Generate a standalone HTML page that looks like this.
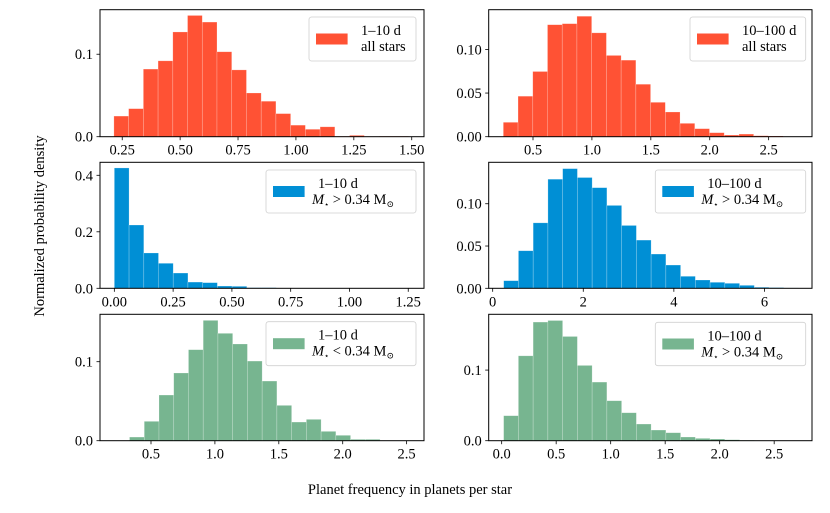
<!DOCTYPE html>
<html><head><meta charset="utf-8"><style>
html,body{margin:0;padding:0;background:#fff}
svg{display:block;font-family:"Liberation Serif","DejaVu Serif",serif}
</style></head><body>
<svg id="fig" width="830" height="513" viewBox="0 0 830 513" xmlns="http://www.w3.org/2000/svg">
<text x="0" y="0" transform="translate(44,226) rotate(-90)" text-anchor="middle" font-size="14.5">Normalized probability density</text>
<text x="410" y="494" text-anchor="middle" font-size="14.5">Planet frequency in planets per star</text>
</svg>
<script>
// Panel 1: 1-10 d all stars
const p1Start = 0.214, p1Width = 0.0636;
const p1Values = [0.025,0.034,0.082,0.092,0.127,0.147,0.139,0.103,0.081,0.053,0.043,0.028,0.014,0.009,0.012,0.0005,0.0016,0.0003,0.0005,0.0005];
const p1XTicks = [0.25,0.5,0.75,1.0,1.25,1.5];
const p1XTickLabels = ["0.25","0.50","0.75","1.00","1.25","1.50"];
const p1YTicks = [0,0.1];
const p1YTickLabels = ["0.0","0.1"];
// Panel 2: 10-100 d all stars
const p2Start = 0.248, p2Width = 0.125;
const p2Values = [0.0165,0.0464,0.0747,0.1283,0.1295,0.138,0.119,0.0931,0.0877,0.0601,0.0394,0.0283,0.0153,0.0092,0.0046,0.0019,0.003,0.0011,0.0008];
const p2XTicks = [0.5,1.0,1.5,2.0,2.5];
const p2XTickLabels = ["0.5","1.0","1.5","2.0","2.5"];
const p2YTicks = [0,0.05,0.10];
const p2YTickLabels = ["0.00","0.05","0.10"];
// Panel 3: 1-10 d M > 0.34
const p3Start = 0.0, p3Width = 0.0626;
const p3Values = [0.426,0.224,0.125,0.0885,0.054,0.022,0.020,0.008,0.007,0.002,0.002];
const p3XTicks = [0,0.25,0.5,0.75,1.0,1.25];
const p3XTickLabels = ["0.00","0.25","0.50","0.75","1.00","1.25"];
const p3YTicks = [0,0.2,0.4];
const p3YTickLabels = ["0.0","0.2","0.4"];
// Panel 4: 10-100 d M > 0.34
const p4Start = 0.243, p4Width = 0.3255;
const p4Values = [0.009,0.0444,0.0774,0.129,0.1415,0.131,0.119,0.098,0.0743,0.057,0.0405,0.0275,0.0142,0.0098,0.0071,0.0059,0.0035,0.0012,0.0008,0.0004];
const p4XTicks = [0,2,4,6];
const p4XTickLabels = ["0","2","4","6"];
const p4YTicks = [0,0.05,0.10];
const p4YTickLabels = ["0.00","0.05","0.10"];
// Panel 5: 1-10 d M < 0.34
const p5Start = 0.332, p5Width = 0.1153;
const p5Values = [0.0046,0.0245,0.0578,0.0857,0.1152,0.1523,0.1359,0.1224,0.1008,0.0755,0.0447,0.0236,0.027,0.0118,0.0068,0.0017,0.0017];
const p5XTicks = [0.5,1.0,1.5,2.0,2.5];
const p5XTickLabels = ["0.5","1.0","1.5","2.0","2.5"];
const p5YTicks = [0,0.1];
const p5YTickLabels = ["0.0","0.1"];
// Panel 6: 10-100 d
const p6Start = 0.018, p6Width = 0.1353;
const p6Values = [0.0354,0.1202,0.168,0.1702,0.1476,0.1066,0.083,0.0566,0.0396,0.0236,0.0151,0.0113,0.0052,0.0033,0.0024,0.0014,0.0005];
const p6XTicks = [0,0.5,1.0,1.5,2.0,2.5];
const p6XTickLabels = ["0.0","0.5","1.0","1.5","2.0","2.5"];
const p6YTicks = [0,0.1];
const p6YTickLabels = ["0.0","0.1"];

const NS = "http://www.w3.org/2000/svg";
const svg = document.getElementById('fig');
const RED = "#ff5234", BLUE = "#008fd5", GREEN = "#77b590";
function mk(tag, attrs, parent){const e=document.createElementNS(NS,tag);for(const k in attrs)e.setAttribute(k,attrs[k]);(parent||svg).appendChild(e);return e;}

const panels = [
 {id:"p1",box:[100,9.7,424,136.7],xd:[0.154,1.553],yd:[0,0.154],start:p1Start,w:p1Width,vals:p1Values,xt:p1XTicks,xl:p1XTickLabels,yt:p1YTicks,yl:p1YTickLabels,c:RED,leg:[309,17,416,61],l1:"1–10 d",l2:"all stars"},
 {id:"p2",box:[488.7,9.7,812,136.7],xd:[0.124,2.868],yd:[0,0.1455],start:p2Start,w:p2Width,vals:p2Values,xt:p2XTicks,xl:p2XTickLabels,yt:p2YTicks,yl:p2YTickLabels,c:RED,leg:[690,17,805.7,61],l1:"10–100 d",l2:"all stars"},
 {id:"p3",box:[100,162.3,424,288.3],xd:[-0.061,1.317],yd:[0,0.446],start:p3Start,w:p3Width,vals:p3Values,xt:p3XTicks,xl:p3XTickLabels,yt:p3YTicks,yl:p3YTickLabels,c:BLUE,leg:[266,170,416,213],l1:"1–10 d",l2:">"},
 {id:"p4",box:[488.7,162.3,812,288.3],xd:[-0.088,7.05],yd:[0,0.149],start:p4Start,w:p4Width,vals:p4Values,xt:p4XTicks,xl:p4XTickLabels,yt:p4YTicks,yl:p4YTickLabels,c:BLUE,leg:[655.3,170,805.7,213],l1:"10–100 d",l2:">"},
 {id:"p5",box:[100,314.3,424,440.7],xd:[0.101,2.636],yd:[0,0.160],start:p5Start,w:p5Width,vals:p5Values,xt:p5XTicks,xl:p5XTickLabels,yt:p5YTicks,yl:p5YTickLabels,c:GREEN,leg:[266,321.7,416,365.7],l1:"1–10 d",l2:"<"},
 {id:"p6",box:[488.7,314.3,812,440.7],xd:[-0.119,2.847],yd:[0,0.179],start:p6Start,w:p6Width,vals:p6Values,xt:p6XTicks,xl:p6XTickLabels,yt:p6YTicks,yl:p6YTickLabels,c:GREEN,leg:[655.3,322.3,805.7,365.7],l1:"10–100 d",l2:">"}
];

panels.forEach(p=>{
  const [x0,y0,x1,y1]=p.box;
  const sx=v=>x0+(v-p.xd[0])/(p.xd[1]-p.xd[0])*(x1-x0);
  const sy=v=>y1-(v-p.yd[0])/(p.yd[1]-p.yd[0])*(y1-y0);
  const g=mk('g',{});
  
  
  p.vals.forEach((v,i)=>{
    const a=sx(p.start+i*p.w), b=sx(p.start+(i+1)*p.w);
    const r=mk('rect',{x:a,y:sy(v),width:b-a,height:sy(0)-sy(v),fill:p.c,stroke:"#ffffff","stroke-opacity":"0.35","stroke-width":"0.6"},g);
    
    
  });
  const fr=mk('rect',{x:x0,y:y0,width:x1-x0,height:y1-y0,fill:"none",stroke:"#000","stroke-width":"1"},g);
  
  
  p.xt.forEach((t,i)=>{
    const x=sx(t);
    mk('line',{x1:x,y1:y1,x2:x,y2:y1+3.5,stroke:"#000","stroke-width":"0.8"},g);
    const tx=mk('text',{x:x,y:y1+18,"text-anchor":"middle","font-size":"14.5"},g);
    tx.textContent=p.xl[i];
    
    
  });
  p.yt.forEach((t,i)=>{
    const y=sy(t);
    mk('line',{x1:x0,y1:y,x2:x0-3.5,y2:y,stroke:"#000","stroke-width":"0.8"},g);
    const tx=mk('text',{x:x0-7,y:y+5,"text-anchor":"end","font-size":"14.5"},g);
    tx.textContent=p.yl[i];
    
    
  });
  const [lx0,ly0,lx1,ly1]=p.leg;
  const lg=mk('g',{},g);
  
  
  mk('rect',{x:lx0,y:ly0,width:lx1-lx0,height:ly1-ly0,rx:2.5,fill:"#fff","fill-opacity":"0.8",stroke:"#d0d0d0","stroke-width":"0.8"},lg);
  const patchY=(ly0+ly1)/2-5.5;
  mk('rect',{x:lx0+7,y:patchY,width:31.6,height:11,fill:p.c},lg);
  const t1=mk('text',{x:lx0+52,y:ly0+18,"font-size":"14.5"},lg);
  t1.textContent=p.l1;
  if(p.l2==="all stars"){
    const t2=mk('text',{x:lx0+52,y:ly0+34,"font-size":"14.5"},lg);
    t2.textContent="all stars";
  } else {
    const t2=mk('text',{x:lx0+46,y:ly0+34,"font-size":"14.5"},lg);
    const a=mk('tspan',{"font-style":"italic"},t2); a.textContent="M";
    const b=mk('tspan',{"font-size":"8",dy:"3"},t2); b.textContent="⋆";
    const c=mk('tspan',{dy:"-3"},t2); c.textContent=" "+p.l2+" 0.34 M";
    const d=mk('tspan',{"font-size":"9",dy:"3"},t2); d.textContent="⊙";
  }
});
</script>
</body></html>
